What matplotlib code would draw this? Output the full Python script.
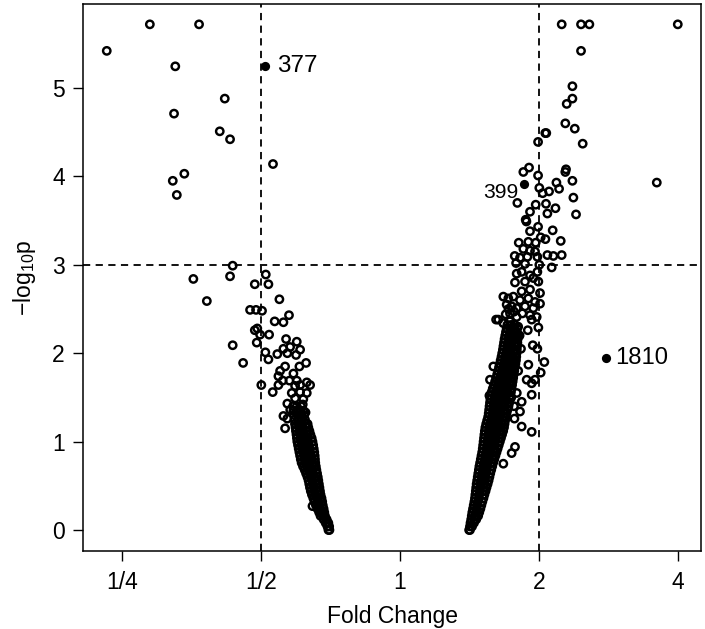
import numpy as np
import matplotlib
matplotlib.use("Agg")
import matplotlib.pyplot as plt

plt.rcParams['font.family'] = ['Liberation Sans', 'DejaVu Sans']
plt.rcParams['mathtext.default'] = 'regular'

# === DATA (log2 fold change, -log10 p) ===
# scattered points, down-regulated side
left_points = [
    (-2.11, 5.42), (-1.80, 5.72), (-1.446, 5.72), (-1.617, 5.245), (-1.261, 4.88),
    (-1.626, 4.71), (-1.297, 4.51), (-1.223, 4.42), (-0.914, 4.14), (-1.552, 4.03),
    (-1.635, 3.95), (-1.606, 3.79),
    (-1.204, 2.99), (-1.223, 2.87), (-0.966, 2.89), (-1.487, 2.84), (-1.045, 2.78),
    (-0.947, 2.78), (-1.39, 2.59), (-0.868, 2.61), (-1.079, 2.49), (-1.036, 2.49),
    (-0.993, 2.48), (-0.902, 2.36), (-0.839, 2.35), (-0.799, 2.43), (-1.045, 2.26),
    (-1.027, 2.28), (-0.942, 2.21), (-1.007, 2.21), (-1.031, 2.12), (-1.204, 2.09),
    (-0.969, 2.01), (-0.947, 1.93), (-1.129, 1.89), (-0.883, 1.99), (-0.82, 2.16),
    (-0.743, 2.13), (-0.791, 2.07), (-0.719, 2.04), (-0.839, 2.05), (-0.811, 2.00),
    (-0.748, 1.98), (-0.676, 1.89), (-0.827, 1.85), (-0.724, 1.85), (-0.863, 1.80),
    (-0.767, 1.77), (-0.998, 1.64), (-0.916, 1.56), (-0.875, 1.74), (-0.844, 1.69),
    (-0.875, 1.64), (-0.796, 1.69), (-0.743, 1.69), (-0.755, 1.63), (-0.719, 1.64),
    (-0.671, 1.67), (-0.647, 1.64), (-0.779, 1.55), (-0.719, 1.56), (-0.755, 1.49),
    (-0.696, 1.48), (-0.671, 1.55), (-0.811, 1.43), (-0.839, 1.29), (-0.811, 1.26),
    (-0.827, 1.15), (-0.63, 0.27), (-0.70, 1.42), (-0.79, 1.36), (-0.68, 1.33),
]

# scattered points, up-regulated side
right_points = [
    (1.163, 5.72), (1.302, 5.72), (1.362, 5.72), (1.998, 5.72), (1.302, 5.42),
    (1.24, 5.02), (1.24, 4.88), (1.199, 4.82), (1.189, 4.60), (1.257, 4.54),
    (1.314, 4.37), (1.045, 4.49), (1.052, 4.49), (0.993, 4.39), (1.847, 3.93),
    (0.887, 4.05), (0.928, 4.10), (0.993, 4.01), (1.194, 4.08), (1.189, 4.05),
    (1.24, 3.95), (1.125, 3.93), (1.144, 3.86), (1.002, 3.87), (1.026, 3.81),
    (1.072, 3.83), (0.844, 3.70), (1.247, 3.76), (0.976, 3.68), (1.05, 3.69),
    (0.935, 3.60), (1.06, 3.58), (1.118, 3.64), (1.266, 3.57), (0.904, 3.51),
    (0.909, 3.49), (0.993, 3.43), (0.935, 3.38), (1.098, 3.39), (1.012, 3.31),
    (1.046, 3.29), (1.156, 3.27), (0.854, 3.25), (0.923, 3.26), (0.976, 3.25),
    (0.887, 3.18), (0.935, 3.16), (0.971, 3.15), (0.825, 3.10), (0.863, 3.08),
    (0.916, 3.09), (0.988, 3.09), (1.06, 3.11), (1.103, 3.10), (1.163, 3.11),
    (0.835, 3.02), (0.899, 3.01), (1.002, 3.00), (1.091, 2.97),
    (0.839, 2.90), (0.875, 2.92), (0.935, 2.88), (0.988, 2.92), (0.827, 2.80),
    (0.899, 2.81), (0.959, 2.85), (0.995, 2.81), (0.875, 2.70), (0.935, 2.72),
    (1.007, 2.68), (0.743, 2.64), (0.779, 2.62), (0.815, 2.64), (0.863, 2.60),
    (0.923, 2.62), (0.971, 2.58), (1.007, 2.56), (0.767, 2.55), (0.803, 2.53),
    (0.839, 2.51), (0.899, 2.53), (0.959, 2.51), (0.791, 2.45), (0.839, 2.41),
    (0.935, 2.43), (0.983, 2.41), (0.707, 2.38), (0.743, 2.34), (0.691, 2.38),
    (0.947, 2.38), (0.919, 2.26), (0.995, 2.29), (0.955, 2.09), (0.988, 2.05),
    (1.038, 1.90), (1.012, 1.78), (0.923, 1.87), (0.671, 1.85), (0.647, 1.70),
    (0.911, 1.70), (0.947, 1.66), (0.971, 1.70), (0.947, 1.53), (0.643, 1.52),
    (0.875, 1.45), (0.863, 1.34), (0.823, 1.26), (0.875, 1.17), (0.947, 1.11),
    (0.827, 0.94), (0.803, 0.87), (0.743, 0.75), (0.80, 1.50), (0.82, 1.40),
    (0.84, 1.55), (0.76, 2.44), (0.79, 2.36), (0.82, 2.47), (0.85, 2.30),
    (0.88, 2.45), (0.78, 2.50), (0.86, 2.20), (0.87, 2.05), (0.85, 1.80),
]

# dense core of each arm: (-log10 p, [log2 fold changes in that row])
left_core = [
    (0.00, [-0.508, -0.515]),
    (0.04, [-0.522, -0.510]),
    (0.08, [-0.535, -0.516]),
    (0.12, [-0.550, -0.528]),
    (0.16, [-0.572, -0.555, -0.540]),
    (0.20, [-0.582, -0.562, -0.545]),
    (0.24, [-0.594, -0.572, -0.550]),
    (0.28, [-0.605, -0.582, -0.556]),
    (0.32, [-0.616, -0.592, -0.566, -0.560]),
    (0.36, [-0.624, -0.599, -0.575, -0.565]),
    (0.40, [-0.634, -0.609, -0.585, -0.572]),
    (0.44, [-0.642, -0.617, -0.592, -0.576]),
    (0.48, [-0.648, -0.622, -0.598, -0.580]),
    (0.52, [-0.653, -0.628, -0.603, -0.584]),
    (0.56, [-0.658, -0.632, -0.607, -0.588]),
    (0.60, [-0.666, -0.640, -0.614, -0.592]),
    (0.64, [-0.676, -0.650, -0.624, -0.597]),
    (0.68, [-0.686, -0.660, -0.634, -0.602]),
    (0.72, [-0.698, -0.672, -0.646, -0.620, -0.606]),
    (0.76, [-0.708, -0.682, -0.656, -0.630, -0.610]),
    (0.80, [-0.714, -0.688, -0.662, -0.636, -0.612]),
    (0.84, [-0.719, -0.693, -0.667, -0.641, -0.614]),
    (0.88, [-0.724, -0.698, -0.672, -0.646, -0.617]),
    (0.92, [-0.729, -0.703, -0.677, -0.651, -0.621]),
    (0.96, [-0.734, -0.708, -0.682, -0.656, -0.625]),
    (1.00, [-0.739, -0.713, -0.687, -0.661, -0.630]),
    (1.04, [-0.742, -0.716, -0.690, -0.664, -0.636]),
    (1.08, [-0.745, -0.719, -0.693, -0.667, -0.645]),
    (1.12, [-0.749, -0.723, -0.697, -0.671, -0.652]),
    (1.16, [-0.752, -0.726, -0.700, -0.674, -0.660]),
    (1.20, [-0.756, -0.730, -0.704, -0.678, -0.665]),
    (1.25, [-0.760, -0.734, -0.708, -0.684]),
    (1.30, [-0.763, -0.737, -0.711, -0.690]),
    (1.35, [-0.767, -0.741, -0.715, -0.695]),
    (1.40, [-0.770, -0.743, -0.713]),
]

right_core = [
    (0.00, [0.497, 0.503]),
    (0.04, [0.503, 0.518]),
    (0.08, [0.507, 0.532]),
    (0.12, [0.512, 0.535, 0.548]),
    (0.16, [0.516, 0.540, 0.562]),
    (0.20, [0.520, 0.545, 0.570]),
    (0.24, [0.525, 0.550, 0.578]),
    (0.28, [0.530, 0.556, 0.585]),
    (0.32, [0.535, 0.561, 0.592]),
    (0.36, [0.539, 0.566, 0.600]),
    (0.40, [0.542, 0.570, 0.598, 0.607]),
    (0.44, [0.545, 0.573, 0.600, 0.615]),
    (0.48, [0.548, 0.576, 0.603, 0.622]),
    (0.52, [0.551, 0.579, 0.606, 0.630]),
    (0.56, [0.555, 0.583, 0.610, 0.637]),
    (0.60, [0.559, 0.587, 0.614, 0.643]),
    (0.64, [0.563, 0.591, 0.618, 0.649]),
    (0.68, [0.567, 0.595, 0.622, 0.656]),
    (0.72, [0.571, 0.599, 0.627, 0.655, 0.663]),
    (0.76, [0.576, 0.604, 0.632, 0.657, 0.670]),
    (0.80, [0.581, 0.609, 0.637, 0.664, 0.678]),
    (0.84, [0.586, 0.614, 0.642, 0.670, 0.686]),
    (0.88, [0.591, 0.619, 0.647, 0.676, 0.694]),
    (0.92, [0.595, 0.623, 0.651, 0.680, 0.702]),
    (0.96, [0.598, 0.626, 0.654, 0.682, 0.710]),
    (1.00, [0.601, 0.629, 0.657, 0.685, 0.712, 0.718]),
    (1.04, [0.604, 0.632, 0.660, 0.688, 0.714, 0.726]),
    (1.08, [0.607, 0.635, 0.663, 0.691, 0.717, 0.734]),
    (1.12, [0.610, 0.638, 0.666, 0.694, 0.720, 0.742]),
    (1.16, [0.614, 0.642, 0.670, 0.698, 0.724, 0.748]),
    (1.20, [0.620, 0.648, 0.676, 0.704, 0.730, 0.752]),
    (1.24, [0.627, 0.655, 0.683, 0.711, 0.737, 0.756]),
    (1.28, [0.634, 0.662, 0.690, 0.718, 0.744, 0.760]),
    (1.32, [0.638, 0.666, 0.694, 0.722, 0.748, 0.766]),
    (1.36, [0.641, 0.669, 0.697, 0.725, 0.751, 0.773]),
    (1.40, [0.644, 0.672, 0.700, 0.728, 0.754, 0.780]),
    (1.44, [0.647, 0.675, 0.703, 0.731, 0.757, 0.786]),
    (1.48, [0.650, 0.678, 0.706, 0.734, 0.760, 0.790]),
    (1.52, [0.654, 0.682, 0.710, 0.738, 0.764, 0.794]),
    (1.56, [0.659, 0.687, 0.715, 0.743, 0.769, 0.798]),
    (1.60, [0.667, 0.695, 0.723, 0.751, 0.777, 0.802]),
    (1.64, [0.676, 0.704, 0.732, 0.760, 0.786, 0.806]),
    (1.68, [0.684, 0.712, 0.740, 0.768, 0.794, 0.810]),
    (1.72, [0.692, 0.720, 0.748, 0.776, 0.800, 0.814]),
    (1.76, [0.699, 0.727, 0.755, 0.783, 0.804, 0.818]),
    (1.80, [0.706, 0.734, 0.762, 0.790, 0.808, 0.822]),
    (1.84, [0.712, 0.740, 0.768, 0.796, 0.812, 0.826]),
    (1.88, [0.718, 0.746, 0.774, 0.802, 0.816, 0.830]),
    (1.92, [0.724, 0.752, 0.780, 0.806, 0.820, 0.834]),
    (1.96, [0.730, 0.758, 0.786, 0.812, 0.836]),
    (2.00, [0.735, 0.763, 0.791, 0.816, 0.838]),
    (2.04, [0.740, 0.768, 0.796, 0.820, 0.840]),
    (2.08, [0.744, 0.772, 0.800, 0.824, 0.842]),
    (2.12, [0.748, 0.776, 0.804, 0.828, 0.844]),
    (2.16, [0.752, 0.780, 0.808, 0.832, 0.846]),
    (2.20, [0.757, 0.785, 0.812, 0.836, 0.848]),
    (2.24, [0.762, 0.790, 0.816, 0.840]),
    (2.28, [0.767, 0.795, 0.820, 0.842]),
    (2.32, [0.772, 0.800, 0.826]),
]

# highlighted genes
hl_labels = ['377', '399', '1810']
hl_lfc = [-0.969, 0.89, 1.482]
hl_p = [5.245, 3.91, 1.946]

fc_ticks = [-2, -1, 0, 1, 2]
fc_ticklabels = ['1/4', '1/2', '1', '2', '4']
p_ticks = [0, 1, 2, 3, 4, 5]

# === BUILD POINT ARRAYS ===
xs, ys = [], []
for lfc, p in left_points + right_points:
    xs.append(lfc)
    ys.append(p)
for p, row in left_core + right_core:
    xs += row
    ys += [p] * len(row)

# === PLOT ===
fig = plt.figure(figsize=(7.05, 6.29), dpi=100)
ax = fig.add_axes([0.1183, 0.1245, 0.876, 0.8687])

ax.scatter(xs, ys, s=28, facecolors='none', edgecolors='black', linewidths=1.75, zorder=2)
ax.scatter(hl_lfc, hl_p, s=44, color='black', linewidths=0, zorder=3)

dash = (0, (4, 3))
ax.axvline(-1, color='black', linestyle=dash, linewidth=1.3, zorder=1)
ax.axvline(1, color='black', linestyle=dash, linewidth=1.3, zorder=1)
ax.axhline(3, color='black', linestyle=dash, linewidth=1.3, zorder=1)

ax.annotate(hl_labels[0], (hl_lfc[0], hl_p[0]), xytext=(8.5, 0), textcoords='offset points',
            ha='left', va='center', fontsize=17.5)
ax.annotate(hl_labels[1], (hl_lfc[1], hl_p[1]), xytext=(-4, -6), textcoords='offset points',
            ha='right', va='center', fontsize=15.2)
ax.annotate(hl_labels[2], (hl_lfc[2], hl_p[2]), xytext=(6.5, 0), textcoords='offset points',
            ha='left', va='center', fontsize=17.2)

ax.set_xlim(-2.278, 2.165)
ax.set_ylim(-0.234, 5.947)
ax.set_xticks(fc_ticks)
ax.set_xticklabels(fc_ticklabels)
ax.set_yticks(p_ticks)
ax.tick_params(direction='out', length=7.5, width=1.0, labelsize=16.5)
ax.tick_params(axis='x', pad=7)
ax.tick_params(axis='y', pad=6)
for s in ax.spines.values():
    s.set_linewidth(1.1)

ax.set_xlabel('Fold Change', fontsize=16.5, labelpad=8)
ax.set_ylabel('\u2212log$_{10}$p', fontsize=16.5, labelpad=10)

fig.savefig('out.png', dpi=100)
